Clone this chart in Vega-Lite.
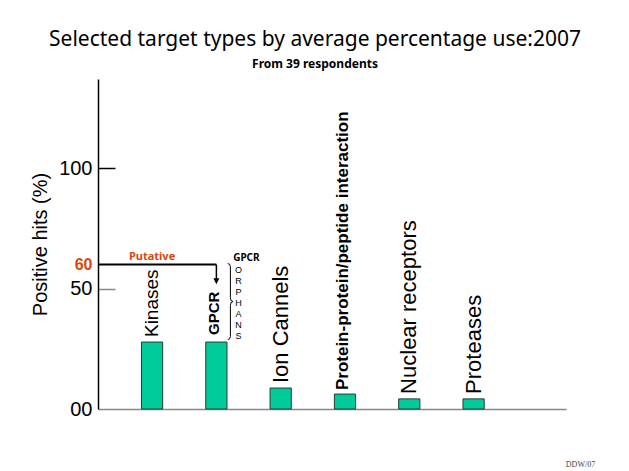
{
  "$schema": "https://vega.github.io/schema/vega-lite/v6.json",
  "width": 468,
  "height": 330,
  "autosize": {"type": "none"},
  "padding": {"left": 98, "top": 79, "right": 63, "bottom": 62},
  "background": "white",
  "config": {"view": {"stroke": null}, "font": "Liberation Sans"},
  "title": {
    "text": "Selected target types by average percentage use:2007",
    "subtitle": "From 39 respondents",
    "fontSize": 21,
    "fontWeight": "normal",
    "font": "Noto Sans",
    "color": "black",
    "subtitleFont": "Noto Sans",
    "subtitleFontSize": 12,
    "subtitleFontWeight": "bold",
    "subtitleColor": "black",
    "anchor": "middle",
    "dx": -17,
    "offset": 9,
    "subtitlePadding": 9
  },
  "datasets": {
    "bars": [
      {"type": "Kinases", "pct": 27.8},
      {"type": "GPCR", "pct": 27.8},
      {"type": "Ion Cannels", "pct": 8.7},
      {"type": "Protein-protein/peptide interaction", "pct": 6.2},
      {"type": "Nuclear receptors", "pct": 4.2},
      {"type": "Proteases", "pct": 4.2}
    ],
    "notes": [
      {"type": "Kinases", "level": 60, "label": "Putative", "kind": "putative"},
      {"type": "GPCR", "level": 60, "label": "GPCR", "kind": "gpcr"},
      {"type": "GPCR", "level": 59.2, "label": "O\nR\nP\nH\nA\nN\nS", "kind": "orphans"},
      {"type": "GPCR", "level": 44.6, "label": "}", "kind": "brace"}
    ],
    "arrow": [
      {"type": "GPCR", "level": 60, "tip": 53}
    ]
  },
  "encoding": {
    "x": {
      "field": "type",
      "type": "nominal",
      "sort": null,
      "scale": {
        "domain": ["Kinases", "GPCR", "Ion Cannels", "Protein-protein/peptide interaction", "Nuclear receptors", "Proteases"],
        "paddingInner": 0.67,
        "paddingOuter": 0.974,
        "align": 0.347
      },
      "axis": {
        "labels": false,
        "ticks": false,
        "domainColor": "#888888",
        "domainWidth": 1.5,
        "title": "DDW/07",
        "titleFont": "Liberation Serif",
        "titleFontSize": 8,
        "titleFontWeight": "normal",
        "titleColor": "#444444",
        "titleX": 482,
        "titleY": 55,
        "titleAlign": "center",
        "titleBaseline": "middle"
      }
    }
  },
  "layer": [
    {
      "data": {"name": "bars"},
      "mark": {"type": "bar", "color": "#00CC99", "stroke": "#2a3a33", "strokeWidth": 1},
      "encoding": {
        "y": {
          "field": "pct",
          "type": "quantitative",
          "scale": {"domain": [0, 137], "nice": false},
          "axis": {
            "values": [0, 50, 60, 100],
            "title": "Positive hits (%)",
            "titleFontSize": 20,
            "titleFontWeight": "normal",
            "titleColor": "black",
            "titlePadding": 8,
            "domainColor": "black",
            "domainWidth": 1.5,
            "tickSize": -17,
            "tickWidth": 1.5,
            "tickColor": {"condition": {"test": "datum.value == 50", "value": "#888888"}, "value": "black"},
            "tickOpacity": {"condition": {"test": "datum.value == 0 || datum.value == 60", "value": 0}, "value": 1},
            "labelPadding": 23,
            "labelExpr": "datum.value == 0 ? '00' : datum.label",
            "labelFontSize": {"condition": {"test": "datum.value == 60", "value": 16}, "value": 20},
            "labelFontWeight": {"condition": {"test": "datum.value == 60", "value": "bold"}, "value": "normal"},
            "labelColor": {"condition": {"test": "datum.value == 60", "value": "#D9480F"}, "value": "black"},
            "grid": false
          }
        }
      }
    },
    {
      "data": {"name": "bars"},
      "transform": [{"filter": "datum.type != 'GPCR' && datum.type != 'Protein-protein/peptide interaction'"}],
      "mark": {"type": "text", "angle": 270, "align": "left", "baseline": "middle", "dx": 5, "color": "black"},
      "encoding": {
        "y": {"field": "pct", "type": "quantitative"},
        "text": {"field": "type"},
        "size": {"condition": {"test": "datum.type == 'Kinases'", "value": 19}, "value": 22}
      }
    },
    {
      "data": {"name": "bars"},
      "transform": [{"filter": "datum.type == 'GPCR'"}],
      "mark": {"type": "text", "angle": 270, "align": "left", "baseline": "middle", "dx": 7, "dy": -2, "fontSize": 15, "fontWeight": "bold", "color": "black"},
      "encoding": {
        "y": {"field": "pct", "type": "quantitative"},
        "text": {"field": "type"}
      }
    },
    {
      "data": {"name": "bars"},
      "transform": [{"filter": "datum.type == 'Protein-protein/peptide interaction'"}],
      "mark": {"type": "text", "angle": 270, "align": "left", "baseline": "middle", "dx": 4, "dy": -2, "fontSize": 17, "fontWeight": "bold", "color": "black"},
      "encoding": {
        "y": {"field": "pct", "type": "quantitative"},
        "text": {"field": "type"}
      }
    },
    {
      "data": {"name": "arrow"},
      "mark": {"type": "rule", "color": "black", "strokeWidth": 2},
      "encoding": {
        "x": {"field": "type", "type": "nominal", "bandPosition": 0.5},
        "x2": {"value": 0},
        "y": {"field": "level", "type": "quantitative"}
      }
    },
    {
      "data": {"name": "arrow"},
      "mark": {"type": "rule", "color": "black", "strokeWidth": 1.5},
      "encoding": {
        "x": {"field": "type", "type": "nominal", "bandPosition": 0.5},
        "y": {"field": "level", "type": "quantitative"},
        "y2": {"field": "tip"}
      }
    },
    {
      "data": {"name": "arrow"},
      "mark": {"type": "point", "shape": "M-1,-1L1,-1L0,1Z", "filled": true, "color": "black", "size": 36, "opacity": 1},
      "encoding": {
        "x": {"field": "type", "type": "nominal", "bandPosition": 0.5},
        "y": {"field": "tip", "type": "quantitative"}
      }
    },
    {
      "data": {"name": "notes"},
      "transform": [{"filter": "datum.kind == 'putative'"}],
      "mark": {"type": "text", "color": "#D9480F", "fontWeight": "bold", "fontSize": 11, "font": "Noto Sans", "baseline": "bottom", "dy": -2},
      "encoding": {
        "x": {"field": "type", "type": "nominal"},
        "y": {"field": "level", "type": "quantitative"},
        "text": {"field": "label"}
      }
    },
    {
      "data": {"name": "notes"},
      "transform": [{"filter": "datum.kind == 'gpcr'"}],
      "mark": {"type": "text", "color": "black", "fontWeight": "bold", "fontSize": 10, "font": "Noto Sans", "baseline": "bottom", "dx": 30, "dy": -1},
      "encoding": {
        "x": {"field": "type", "type": "nominal"},
        "y": {"field": "level", "type": "quantitative"},
        "text": {"field": "label"}
      }
    },
    {
      "data": {"name": "notes"},
      "transform": [{"filter": "datum.kind == 'orphans'"}],
      "mark": {"type": "text", "color": "black", "fontSize": 9, "lineBreak": "\n", "lineHeight": 11, "baseline": "top", "align": "center", "dx": 22},
      "encoding": {
        "x": {"field": "type", "type": "nominal"},
        "y": {"field": "level", "type": "quantitative"},
        "text": {"field": "label"}
      }
    },
    {
      "data": {"name": "notes"},
      "transform": [{"filter": "datum.kind == 'brace'"}],
      "mark": {
        "type": "point",
        "shape": "M-0.07,-1Q0,-1 0,-0.92L0,-0.1Q0,0 0.07,0Q0,0 0,0.1L0,0.92Q0,1 -0.07,1",
        "filled": false,
        "stroke": "black",
        "strokeWidth": 1,
        "opacity": 1,
        "size": 5776,
        "xOffset": 14
      },
      "encoding": {
        "x": {"field": "type", "type": "nominal"},
        "y": {"field": "level", "type": "quantitative"}
      }
    }
  ]
}
